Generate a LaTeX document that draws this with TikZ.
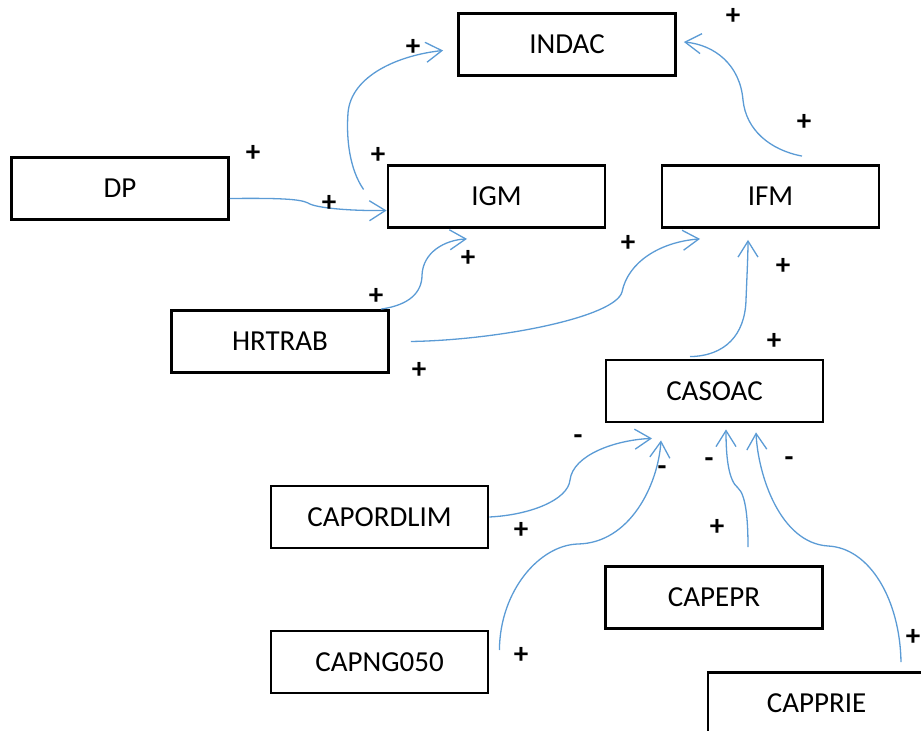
\documentclass[tikz,border=0pt]{standalone}
\usepackage{fontspec}
\setmainfont{Carlito}
\usetikzlibrary{arrows.meta}
\definecolor{linkblue}{HTML}{5B9BD5}

\begin{document}
\begin{tikzpicture}[x=0.5pt, y=-0.5pt,
	every node/.style={font=\fontsize{14.5}{17}\selectfont},
	box/.style={draw, line width=1.4pt, minimum width=108.5pt, minimum height=31pt, inner sep=0pt},
	link/.style={draw=linkblue, line width=0.65pt, -{Straight Barb[length=8pt, width=10pt]}},
	sign/.style={font=\fontsize{14.5}{17}\selectfont\bfseries, inner sep=0pt}]
	% Frame of the picture
	\clip (0,0) rectangle (921,731);
	
	% --- VARIABLES ---
	\node[box] (INDAC) at (567,44.5) {INDAC};
	\node[box] (DP) at (120,188.5) {DP};
	\node[box] (IGM) at (496.5,196.5) {IGM};
	\node[box] (IFM) at (770.5,196.5) {IFM};
	\node[box] (HRTRAB) at (280,341.5) {HRTRAB};
	\node[box] (CASOAC) at (714.5,391) {CASOAC};
	\node[box] (CAPORDLIM) at (379.5,517) {CAPORDLIM};
	\node[box] (CAPEPR) at (714,597.5) {CAPEPR};
	\node[box] (CAPNG) at (379.5,662) {CAPNG050};
	\node[box] (CAPPRIE) at (816.5,703.5) {CAPPRIE};
	
	% --- LINKS TO INDAC ---
	\draw[link] ([shift={(-23,-7)}]IGM.west) .. controls (350,170) and (346,140) .. (348,113)
		.. controls (351,75) and (400,55) .. ([shift={(-14,6)}]INDAC.west);
	\draw[link] ([shift={(31.5,-8)}]IFM.north) .. controls (770,150) and (746,130) .. (743,100)
		.. controls (740,65) and (715,45) .. ([shift={(7,-2.5)}]INDAC.east);
	
	% --- LINKS TO IGM and IFM ---
	\draw[link] ([yshift=-5pt]DP.east) .. controls (280,198) and (300,199) .. (308,203)
		.. controls (315,208) and (350,211) .. ([yshift=-7pt]IGM.west);
	\draw[link] ([xshift=-4.5pt]HRTRAB.north east) .. controls (410,305) and (422,292) .. (422,275)
		.. controls (423,252) and (445,240) .. ([shift={(-29.5,10)}]IGM.south);
	\draw[link] ([xshift=10.5pt]HRTRAB.east) .. controls (500,340) and (615,317) .. (622,292)
		.. controls (628,262) and (660,242) .. ([shift={(-70.5,10)}]IFM.south);
	\draw[link] ([shift={(-24.5,-2)}]CASOAC.north) .. controls (725,356) and (745,335) .. (746,300)
		.. controls (747,275) and (748,255) .. ([shift={(-22.5,11)}]IFM.south);
	
	% --- LINKS TO CASOAC ---
	\draw[link] (CAPORDLIM.east) .. controls (530,515) and (568,500) .. (570,480)
		.. controls (573,455) and (615,440) .. ([shift={(-62.5,15)}]CASOAC.south);
	\draw[link] ([shift={(10,-12)}]CAPNG.east) .. controls (500,590) and (540,545) .. (578,544)
		.. controls (630,543) and (658,485) .. ([shift={(-53.5,17)}]CASOAC.south);
	\draw[link] ([shift={(34,-18)}]CAPEPR.north) .. controls (748,520) and (746,495) .. (738,488)
		.. controls (728,480) and (726,455) .. ([shift={(11.5,6)}]CASOAC.south);
	\draw[link] ([shift={(84.5,-9)}]CAPPRIE.north) .. controls (900,600) and (870,548) .. (828,546)
		.. controls (780,543) and (758,475) .. ([shift={(41.5,9)}]CASOAC.south);
	
	% --- SIGNS ---
	\node[sign] (p1) at (733,16) {+};
	\node[sign] (p2) at (413,47) {+};
	\node[sign] (p3) at (804,122) {+};
	\node[sign] (p4) at (253,153) {+};
	\node[sign] (p5) at (378,155) {+};
	\node[sign] (p6) at (329,203) {+};
	\node[sign] (p7) at (628,243) {+};
	\node[sign] (p8) at (468,258) {+};
	\node[sign] (p9) at (783,266) {+};
	\node[sign] (p10) at (376,296) {+};
	\node[sign] (p11) at (774,341) {+};
	\node[sign] (p12) at (419,370) {+};
	\node[sign] (p13) at (521,530) {+};
	\node[sign] (p14) at (717,527) {+};
	\node[sign] (p15) at (521,655) {+};
	\node[sign] (p16) at (913,637) {+};
	\node[sign] (m1) at (578,440) {-};
	\node[sign] (m2) at (662,471) {-};
	\node[sign] (m3) at (709,463) {-};
	\node[sign] (m4) at (789,462) {-};
\end{tikzpicture}
\end{document}
